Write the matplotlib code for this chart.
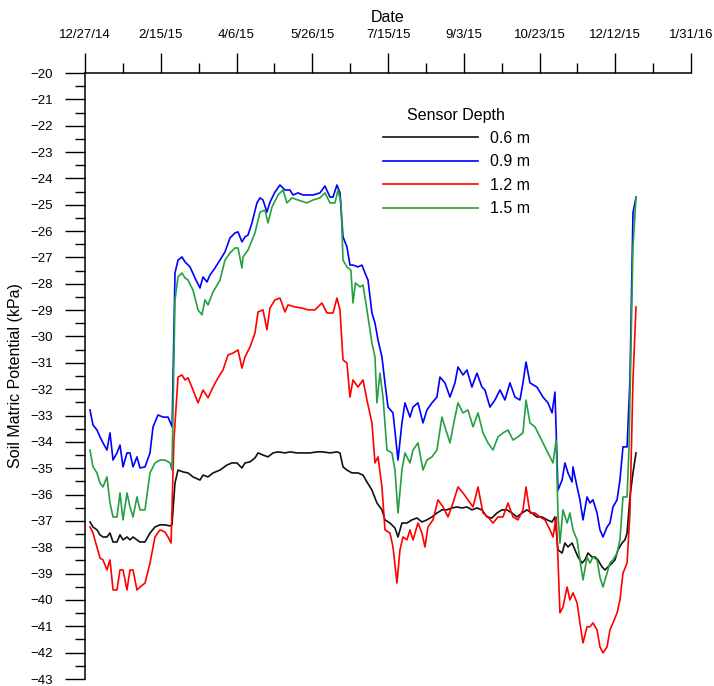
import pandas as pd
import matplotlib
matplotlib.use("Agg")
import matplotlib.pyplot as plt

plt.rcParams['font.family'] = ['Liberation Sans', 'DejaVu Sans']

start = pd.Timestamp('2014-12-27')
tick_dates = pd.date_range(start, periods=9, freq='50D')
tick_labels = [f"{d.month}/{d.day}/{d:%y}" for d in tick_dates]

# days since 12/27/14 and soil matric potential (kPa)
days_06 = [3.3, 5.3, 7.9, 9.9, 11.9, 14.5, 16.5, 18.5, 21.1, 23.1, 25.1, 27.7, 29.7, 31.7, 34.3, 36.3,
           39.6, 42.9, 46.2, 49.5, 52.8, 56.1, 57.4, 59.4, 61.4, 64.7, 68, 71.3, 75.9, 77.9, 81.2, 84.5,
           89.1, 93.7, 97, 100.3, 103.6, 105.6, 108.9, 112.2, 114.2, 117.5, 120.8, 124.1, 127.4, 132,
           135.3, 139.9, 143.9, 148.5, 153.1, 157.1, 161.7, 166.3, 168.3, 170.3, 172.9, 176.2, 180.2,
           183.5, 186.1, 189.4, 192.7, 196, 198, 201.3, 204.6, 206.6, 209.2, 212.5, 215.8, 219.1, 222.4,
           225.7, 229, 232.3, 235.6, 238.9, 242.2, 245.5, 248.8, 252.1, 255.4, 258.7, 262, 265.3, 268.6,
           271.9, 275.2, 278.5, 281.8, 285.1, 288.4, 291.7, 295, 298.3, 301.7, 305, 308.3, 310.2, 312.2,
           314.9, 316.8, 318.8, 321.5, 323.4, 325.4, 328.1, 330, 332, 334.7, 336.6, 338.6, 341.3, 343.2,
           345.2, 347.9, 349.8, 351.8, 354.5, 356.4, 357.8, 359.7, 361.7, 363.7]
vals_06 = [-37.04, -37.23, -37.34, -37.53, -37.61, -37.61, -37.46, -37.80, -37.80, -37.53, -37.72, -37.61,
           -37.72, -37.61, -37.72, -37.80, -37.80, -37.46, -37.23, -37.15, -37.15, -37.19, -37.15, -35.56,
           -35.07, -35.14, -35.18, -35.33, -35.45, -35.26, -35.33, -35.18, -35.07, -34.88, -34.80, -34.80,
           -34.99, -34.80, -34.76, -34.61, -34.42, -34.50, -34.57, -34.42, -34.38, -34.42, -34.38, -34.42,
           -34.42, -34.42, -34.38, -34.38, -34.42, -34.38, -34.42, -34.95, -35.07, -35.18, -35.18, -35.26,
           -35.52, -35.83, -36.32, -36.58, -36.96, -37.08, -37.27, -37.61, -37.08, -37.08, -36.96, -36.89,
           -37.04, -36.96, -36.85, -36.70, -36.58, -36.58, -36.51, -36.47, -36.51, -36.47, -36.58, -36.51,
           -36.58, -36.85, -36.89, -36.70, -36.58, -36.58, -36.70, -36.85, -36.70, -36.58, -36.70, -36.85,
           -36.85, -36.96, -37.04, -36.85, -38.10, -38.22, -37.84, -37.99, -37.84, -38.10, -38.37, -38.60,
           -38.48, -38.22, -38.37, -38.37, -38.48, -38.75, -38.86, -38.75, -38.60, -38.48, -38.10, -37.84,
           -37.72, -37.46, -36.09, -35.18, -34.42]

days_09 = [3.3, 5.3, 7.9, 9.9, 11.9, 14.5, 16.5, 18.5, 21.1, 23.1, 25.1, 27.7, 29.7, 31.7, 34.3, 36.3,
           39.6, 42.9, 44.9, 48.2, 51.5, 54.8, 57.5, 59.4, 61.4, 64, 66, 69.3, 72.6, 75.9, 77.9, 80.5,
           82.5, 85.8, 89.1, 92.4, 95.7, 99, 101, 103.6, 105.6, 107.6, 110.2, 113.5, 115.5, 117.5, 120.1,
           122.1, 125.4, 128.7, 132, 135.3, 137.3, 140.6, 143.9, 147.2, 150.5, 155.1, 158.4, 161.7, 163.7,
           166.3, 168.3, 170.3, 172.9, 174.9, 176.9, 180.2, 182.8, 184.8, 186.8, 189.4, 191.4, 193.4, 196,
           198, 200, 203.3, 206.6, 209.2, 211.2, 214.5, 216.5, 219.8, 223.1, 225.7, 229, 232.3, 234.3,
           237.6, 240.9, 244.2, 246.2, 249.5, 252.1, 255.4, 258.7, 262, 264, 267.3, 270.6, 273.9, 277.2,
           280.5, 283.8, 287.1, 289.1, 291.1, 293.7, 298.3, 302.3, 305.6, 308.3, 310.2, 312.2, 314.9,
           316.8, 318.8, 321.5, 322.1, 324.8, 326.7, 328.7, 331.4, 333.3, 335.3, 338, 339.9, 341.9, 344.6,
           346.5, 348.5, 351.2, 353.1, 355.1, 357.8, 359.7, 361.7, 363.7]
vals_09 = [-32.79, -33.36, -33.55, -33.81, -34.04, -34.31, -33.66, -34.69, -34.42, -34.12, -34.95, -34.42,
           -34.42, -34.95, -34.57, -34.99, -34.95, -34.42, -33.43, -32.98, -33.06, -33.06, -33.43, -27.59,
           -27.10, -26.98, -27.17, -27.36, -27.78, -28.16, -27.74, -27.93, -27.67, -27.40, -27.10, -26.79,
           -26.26, -26.07, -26.03, -26.41, -26.22, -26.15, -25.69, -24.93, -24.74, -24.82, -25.28, -24.90,
           -24.52, -24.25, -24.44, -24.44, -24.63, -24.55, -24.63, -24.63, -24.63, -24.55, -24.29, -24.71,
           -24.71, -24.25, -24.55, -26.22, -26.60, -27.29, -27.29, -27.36, -27.29, -27.59, -27.86, -29.11,
           -29.49, -30.13, -30.78, -31.76, -32.68, -32.90, -34.69, -33.28, -32.52, -33.06, -32.68, -32.52,
           -33.28, -32.79, -32.52, -32.30, -31.54, -31.76, -32.30, -31.76, -31.16, -31.46, -31.27, -31.92,
           -31.39, -31.92, -32.03, -32.68, -32.41, -32.03, -32.41, -31.76, -32.30, -32.41, -31.76, -30.97,
           -31.76, -31.92, -32.30, -32.52, -32.90, -32.11, -35.83, -35.45, -34.80, -35.18, -35.52, -34.95,
           -35.71, -36.20, -36.96, -36.09, -36.32, -36.20, -36.70, -37.34, -37.61, -37.23, -37.08, -36.47,
           -36.20, -35.45, -34.19, -34.19, -31.65, -25.31, -24.71]

days_12 = [3.3, 5.3, 7.9, 9.9, 11.9, 14.5, 16.5, 18.5, 21.1, 23.1, 25.1, 27.7, 29.7, 31.7, 34.3, 36.3,
           39.6, 42.9, 46.2, 49.5, 52.8, 54.8, 56.8, 58.7, 61.4, 64, 66, 68, 71.3, 74.6, 77.9, 81.2,
           84.5, 87.8, 91.1, 94.4, 97.7, 101, 103.6, 105.6, 108.9, 112.2, 114.2, 117.5, 120.1, 122.1,
           125.4, 128.7, 132, 134, 138.6, 143.2, 147.2, 151.8, 156.4, 159.7, 163.7, 166.3, 168.3, 170.3,
           172.9, 174.9, 176.9, 180.2, 183.5, 186.1, 189.4, 191.4, 193.4, 196, 198, 201.3, 203.3, 205.9,
           207.9, 209.9, 212.5, 214.5, 216.5, 219.8, 222.4, 224.4, 226.4, 229.7, 233, 236.3, 239.6, 242.9,
           246.2, 249.5, 252.8, 256.1, 259.4, 262.7, 266, 269.3, 272.6, 275.9, 279.2, 282.5, 285.8, 289.1,
           291.1, 293.7, 297, 300.3, 303.6, 306.9, 308.9, 311, 312.2, 313.5, 315.5, 318.2, 320.1, 322.1,
           324.8, 326.7, 328.7, 331.4, 333.3, 335.3, 338, 339.9, 341.9, 344.6, 346.5, 348.5, 351.2, 353.1,
           355.1, 357.8, 359.7, 361.7, 363.7]
vals_12 = [-37.23, -37.46, -37.99, -38.41, -38.48, -38.86, -38.48, -39.62, -39.62, -38.86, -38.86, -39.62,
           -38.86, -38.86, -39.62, -39.51, -39.36, -38.60, -37.61, -37.34, -37.42, -37.61, -37.84, -33.93,
           -31.54, -31.46, -31.65, -31.57, -32.03, -32.52, -32.03, -32.33, -31.92, -31.57, -31.27, -30.70,
           -30.63, -30.51, -31.20, -30.78, -30.40, -29.87, -29.07, -28.99, -29.75, -28.92, -28.61, -28.54,
           -29.07, -28.80, -28.88, -28.92, -28.99, -28.99, -28.73, -29.11, -29.11, -28.54, -28.99, -30.89,
           -31.01, -32.30, -31.65, -31.92, -31.65, -32.41, -33.28, -34.80, -34.57, -35.71, -37.34, -37.46,
           -37.99, -39.36, -38.10, -37.61, -37.72, -37.34, -37.72, -37.08, -37.46, -37.99, -37.23, -36.96,
           -36.20, -36.47, -36.85, -36.32, -35.71, -35.94, -36.20, -36.47, -35.71, -36.70, -36.85, -37.08,
           -36.85, -36.85, -36.32, -36.85, -36.96, -36.58, -35.71, -36.70, -36.70, -36.85, -36.96, -37.34,
           -37.61, -36.85, -38.48, -40.49, -40.27, -39.51, -40.00, -39.73, -40.11, -40.87, -41.63, -41.02,
           -41.02, -40.87, -41.14, -41.78, -42.01, -41.78, -41.14, -40.87, -40.49, -40.00, -38.98, -38.60,
           -36.70, -31.65, -28.88]

days_15 = [3.3, 5.3, 7.9, 9.9, 11.9, 14.5, 16.5, 18.5, 21.1, 23.1, 25.1, 27.7, 29.7, 31.7, 34.3, 36.3,
           39.6, 42.9, 46.2, 49.5, 52.8, 56.1, 57.4, 59.4, 61.4, 64, 66, 68, 71.3, 74.6, 77.2, 79.2, 81.2,
           84.5, 89.1, 92.4, 95.7, 99, 101, 103.6, 104.3, 107.6, 112.2, 115.5, 118.8, 120.8, 123.4, 127.4,
           130.7, 133.3, 136.6, 140.6, 146.5, 150.5, 155.1, 158.4, 161.7, 165, 167, 169, 170.3, 172.9,
           175.5, 176.9, 178.5, 181.5, 183.5, 186.1, 189.4, 191.4, 192.7, 194.7, 196.7, 199.3, 202.6,
           204.6, 206.6, 209.2, 211.2, 214.5, 216.5, 219.8, 223.1, 225.7, 229, 232.3, 235.6, 237.6, 240.9,
           244.2, 246.2, 249.5, 252.8, 256.1, 259.4, 262.7, 266, 269.3, 272.6, 275.9, 279.2, 282.5, 285.8,
           289.1, 291.1, 293.7, 297, 300.3, 303.6, 306.9, 308.9, 311, 312.2, 313.5, 315.5, 318.2, 320.1,
           322.1, 324.8, 326.7, 328.7, 331.4, 333.3, 335.3, 338, 339.9, 341.9, 344.6, 346.5, 348.5, 351.2,
           353.1, 355.1, 357.8, 359.1, 361.7, 363.7]
vals_15 = [-34.31, -34.95, -35.18, -35.56, -35.71, -35.33, -36.32, -36.85, -36.85, -35.94, -36.96, -35.94,
           -36.47, -36.85, -36.09, -36.58, -36.58, -35.18, -34.80, -34.69, -34.69, -34.80, -35.07, -28.61,
           -27.74, -27.59, -27.78, -27.86, -28.24, -28.99, -29.18, -28.61, -28.80, -28.31, -27.86, -27.10,
           -26.83, -26.64, -26.64, -27.40, -26.98, -26.72, -26.07, -25.28, -25.20, -25.69, -25.09, -24.63,
           -24.44, -24.93, -24.74, -24.82, -24.93, -24.82, -24.74, -24.55, -24.93, -24.93, -24.44, -24.93,
           -27.10, -27.36, -27.48, -28.73, -27.97, -28.12, -28.05, -28.99, -30.25, -30.78, -32.52, -31.39,
           -32.30, -34.31, -34.42, -35.07, -36.70, -35.07, -34.42, -34.80, -34.31, -34.04, -35.07, -34.69,
           -34.57, -34.31, -33.06, -33.43, -34.04, -33.06, -32.52, -32.90, -32.79, -33.43, -32.90, -33.66,
           -34.04, -34.31, -33.81, -33.66, -33.55, -33.93, -33.81, -33.66, -32.41, -33.28, -33.43, -33.81,
           -34.19, -34.57, -34.80, -33.93, -36.77, -37.84, -36.58, -37.08, -36.70, -37.34, -37.72, -38.48,
           -39.24, -38.37, -38.60, -38.37, -38.48, -39.13, -39.51, -38.98, -38.60, -38.48, -38.22, -37.72,
           -36.09, -36.09, -34.19, -26.60, -24.71]

series = [
    ('0.6 m', days_06, vals_06, '#111111'),
    ('0.9 m', days_09, vals_09, '#0000ff'),
    ('1.2 m', days_12, vals_12, '#ff0000'),
    ('1.5 m', days_15, vals_15, '#24a042'),
]

fig = plt.figure(figsize=(7.14, 6.86), dpi=100)
ax = fig.add_axes([85 / 714, 7 / 686, 606 / 714, 606 / 686])

for label, d, v, c in series:
    ax.plot(start + pd.to_timedelta(d, unit='D'), v, color=c, lw=1.2, label=label)

ax.set_xlim(tick_dates[0], tick_dates[-1])
ax.set_ylim(-43, -20)
ax.set_xticks(tick_dates)
ax.set_xticklabels(tick_labels)
ax.set_xticks(tick_dates[:-1] + pd.Timedelta(days=25), minor=True)
ax.set_yticks(range(-43, -19))
ax.set_yticks([y + 0.5 for y in range(-43, -20)], minor=True)

ax.xaxis.tick_top()
ax.xaxis.set_label_position('top')
for s in ['bottom', 'right']:
    ax.spines[s].set_visible(False)
for s in ['top', 'left']:
    ax.spines[s].set_linewidth(1.1)

ax.tick_params(which='major', length=14.4, width=1.0, labelsize=9.5)
ax.tick_params(which='minor', length=7.2, width=1.0)
ax.tick_params(axis='x', which='major', pad=9)
ax.tick_params(axis='y', which='major', pad=9)

ax.set_xlabel('Date', fontsize=11.5, labelpad=5)
ax.set_ylabel('Soil Matric Potential (kPa)', fontsize=11.5, labelpad=5)

leg = ax.legend(title='Sensor Depth', loc='upper left', bbox_to_anchor=(0.491, 0.943),
                frameon=False, fontsize=11.5, title_fontsize=11.5, handlelength=6.0,
                handletextpad=0.72, labelspacing=0.53, borderpad=0, borderaxespad=0)

fig.savefig('out.png', dpi=100)
